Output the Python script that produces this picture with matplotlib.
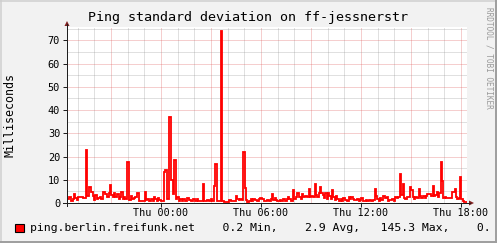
import matplotlib
matplotlib.use("Agg")
import matplotlib.pyplot as plt
from matplotlib.lines import Line2D
from matplotlib.patches import Polygon
import numpy as np

# ---- data (hours relative to Thu 00:00, value in ms) ----
hours = [-5.64, -5.50, -5.42, -5.30, -5.22, -5.14, -5.06, -4.98, -4.70, -4.50,
         -4.42, -4.30, -4.22, -4.10, -4.02, -3.94, -3.86, -3.78, -3.66, -3.58,
         -3.50, -3.38, -3.26, -3.14, -3.06, -2.98, -2.90, -2.82, -2.74, -2.66,
         -2.54, -2.46, -2.38, -2.30, -2.22, -2.14, -2.06, -1.90, -1.82, -1.74,
         -1.62, -1.54, -1.46, -1.30, -0.98, -0.90, -0.82, -0.70, -0.62, -0.50,
         -0.42, -0.34, -0.26, -0.18, -0.10, -0.02, 0.18, 0.26, 0.38, 0.50,
         0.58, 0.74, 0.78, 0.90, 0.98, 1.06, 1.14, 1.26, 1.34, 1.46,
         1.58, 1.66, 1.78, 1.90, 2.02, 2.14, 2.22, 2.50, 2.58, 2.74,
         2.86, 2.98, 3.06, 3.18, 3.26, 3.34, 3.58, 3.66, 3.78, 4.10,
         4.18, 4.50, 4.58, 4.66, 4.74, 4.86, 4.94, 5.02, 5.10, 5.18,
         5.30, 5.38, 5.46, 5.54, 5.66, 5.74, 5.86, 5.94, 6.06, 6.18,
         6.34, 6.46, 6.58, 6.66, 6.74, 6.82, 6.90, 6.98, 7.14, 7.22,
         7.34, 7.42, 7.54, 7.62, 7.70, 7.78, 7.90, 7.98, 8.10, 8.18,
         8.30, 8.38, 8.46, 8.54, 8.66, 8.74, 8.86, 8.94, 9.02, 9.14,
         9.22, 9.30, 9.38, 9.46, 9.54, 9.62, 9.70, 9.78, 9.86, 9.94,
         10.02, 10.10, 10.18, 10.26, 10.34, 10.42, 10.50, 10.58, 10.70, 10.78,
         10.86, 10.94, 11.06, 11.18, 11.26, 11.34, 11.42, 11.50, 11.58, 11.74,
         11.86, 11.94, 12.02, 12.14, 12.30, 12.38, 12.46, 12.58, 12.74, 12.82,
         12.90, 12.98, 13.06, 13.14, 13.22, 13.34, 13.42, 13.54, 13.62, 13.70,
         13.86, 13.98, 14.06, 14.14, 14.22, 14.34, 14.42, 14.50, 14.58, 14.66,
         14.74, 14.94, 15.02, 15.10, 15.18, 15.26, 15.34, 15.46, 15.54, 15.62,
         15.74, 15.82, 15.90, 15.98, 16.22, 16.30, 16.38, 16.46, 16.54, 16.62,
         16.70, 16.78, 16.86, 16.94, 17.02, 17.10, 17.46, 17.62, 17.70, 17.78,
         17.86, 17.94, 18.02, 18.10, 18.18, 18.30]
values = [1.6, 2.7, 1.0, 1.7, 3.7, 2.0, 1.3, 2.7, 2.0, 22.7,
          3.0, 6.7, 4.6, 3.0, 1.3, 3.4, 1.6, 2.0, 2.4, 1.6,
          4.6, 3.7, 2.7, 4.1, 7.7, 3.4, 2.4, 4.1, 2.7, 3.7,
          1.6, 2.4, 4.6, 1.6, 2.4, 1.6, 17.7, 1.3, 3.0, 1.6,
          2.0, 2.7, 4.1, 1.0, 4.6, 1.3, 1.6, 1.0, 1.6, 1.0,
          2.4, 1.6, 1.0, 2.0, 1.3, 1.0, 13.4, 14.4, 1.6, 37.0,
          10.0, 3.9, 18.4, 1.6, 2.7, 1.0, 1.6, 1.0, 1.6, 1.0,
          2.0, 1.3, 1.0, 1.6, 1.0, 1.6, 1.0, 8.1, 1.0, 1.3,
          1.0, 1.6, 1.0, 7.3, 16.7, 1.0, 74.0, 1.0, 0.6, 1.3,
          1.0, 3.0, 1.6, 1.3, 1.6, 1.3, 21.9, 6.3, 1.3, 0.6,
          1.0, 1.6, 1.0, 1.6, 1.3, 1.0, 1.6, 2.2, 1.6, 1.0,
          1.3, 1.0, 1.6, 3.7, 1.3, 2.0, 1.3, 1.0, 1.3, 1.0,
          1.6, 1.0, 1.6, 2.4, 1.6, 1.0, 5.6, 1.6, 2.4, 4.4,
          2.4, 1.6, 3.9, 2.4, 3.0, 2.4, 5.9, 2.7, 3.0, 2.4,
          8.1, 3.4, 2.7, 4.4, 6.7, 4.1, 3.4, 2.0, 4.1, 1.6,
          4.1, 3.0, 1.6, 5.6, 2.4, 1.3, 3.0, 1.6, 1.0, 1.6,
          1.0, 2.0, 1.3, 1.0, 2.4, 1.6, 2.4, 1.6, 1.3, 1.6,
          1.0, 1.3, 2.0, 1.0, 1.3, 1.0, 1.3, 1.0, 1.3, 5.9,
          3.0, 1.6, 1.0, 2.0, 1.3, 3.0, 2.0, 2.4, 1.0, 1.3,
          1.6, 1.0, 2.7, 2.0, 2.4, 12.4, 3.4, 8.1, 2.0, 1.6,
          2.4, 6.7, 5.6, 2.7, 1.6, 2.4, 2.0, 5.9, 3.0, 2.0,
          3.0, 2.0, 3.0, 3.9, 3.0, 7.3, 3.0, 3.4, 4.9, 2.4,
          4.4, 17.7, 9.6, 2.0, 2.4, 2.0, 4.9, 5.9, 2.4, 1.6,
          2.0, 11.0, 1.6, 1.0, 0.6, 0.6]

x_tick_pos = [0, 6, 12, 18]
x_tick_labels = ["Thu 00:00", "Thu 06:00", "Thu 12:00", "Thu 18:00"]
y_ticks = [0, 10, 20, 30, 40, 50, 60, 70]

title = "Ping standard deviation on ff-jessnerstr"
ylabel = "Milliseconds"
legend_text = "ping.berlin.freifunk.net    0.2 Min,    2.9 Avg,   145.3 Max,    0."
watermark = "RRDTOOL / TOBI OETIKER"

# ---- figure ----
W, H = 497, 243
fig = plt.figure(figsize=(W / 100, H / 100), dpi=100)
fig.patch.set_facecolor("#f2f2f2")
mono = "DejaVu Sans Mono"

def fx(px):
    return px / W

def fy(py):
    return 1 - py / H

L, R, T, B = 67, 467, 26.7, 203
ax = fig.add_axes([fx(L), fy(B), (R - L) / W, (B - T) / H])
ax.set_facecolor("white")
ax.set_xlim(-5.64, 18.36)
ax.set_ylim(0, 75.9)

for s in ax.spines.values():
    s.set_visible(False)

# grid
minor_col = (0.56, 0.56, 0.56, 0.55)
major_col = (0.87, 0.31, 0.31, 0.55)
for h in np.arange(-5, 19, 1):
    col = major_col if h % 3 == 0 else minor_col
    ax.axvline(h, color=col, lw=0.72, ls=(0, (1, 1)), zorder=1)
for v in np.arange(5, 76, 5):
    col = major_col if v % 10 == 0 else minor_col
    ax.axhline(v, color=col, lw=0.72, ls=(0, (1, 1)), zorder=1)

# data line
ax.plot(hours + [18.36], values + [values[-1]], drawstyle="steps-post",
        color="#ff0000", lw=1.3, zorder=3, solid_joinstyle="miter")

ax.set_xticks(x_tick_pos)
ax.set_xticklabels(x_tick_labels, fontfamily=mono, fontsize=7.3)
ax.set_yticks(y_ticks)
ax.set_yticklabels([str(v) for v in y_ticks], fontfamily=mono, fontsize=7.4)
ax.tick_params(axis="both", length=2.6, width=0.72, color="#1f1f1f")
ax.tick_params(axis="x", pad=1.2)
ax.tick_params(axis="y", pad=2.4)

# axes lines and arrows (figure coords)
axis_col = "#1f1f1f"
arrow_col = "#801f1f"
fig.add_artist(Line2D([fx(L), fx(L)], [fy(206), fy(24)], color=axis_col, lw=0.72))
fig.add_artist(Line2D([fx(63), fx(470)], [fy(B), fy(B)], color=axis_col, lw=0.72))
fig.add_artist(Polygon([[fx(64.5), fy(26)], [fx(69.5), fy(26)], [fx(67), fy(21)]],
                       closed=True, color=arrow_col, lw=0))
fig.add_artist(Polygon([[fx(469), fy(200.5)], [fx(469), fy(205.5)], [fx(474), fy(203)]],
                       closed=True, color=arrow_col, lw=0))

# texts
fig.text(fx(248), fy(18), title, fontfamily=mono, fontsize=9.6,
         ha="center", va="center", color="black")
fig.text(fx(10), fy(115), ylabel, fontfamily=mono, fontsize=8.4,
         rotation=90, ha="center", va="center", color="black")
fig.text(fx(488.5), fy(58), watermark, fontfamily=mono, fontsize=5.6,
         rotation=-90, ha="center", va="center", color="#9a9a9a")

# legend
fig.add_artist(Polygon([[fx(15), fy(223.5)], [fx(23.5), fy(223.5)],
                        [fx(23.5), fy(232)], [fx(15), fy(232)]],
                       closed=True, facecolor="#ff0000", edgecolor="black", lw=0.8))
fig.text(fx(30), fy(228), legend_text, fontfamily=mono, fontsize=8.25,
         ha="left", va="center", color="black")

# frame shading
fig.add_artist(Line2D([0, 1], [fy(0.7), fy(0.7)], color="#cfcfcf", lw=1.1))
fig.add_artist(Line2D([fx(0.7), fx(0.7)], [0, 1], color="#cfcfcf", lw=1.1))
fig.add_artist(Line2D([0, 1], [fy(242.3), fy(242.3)], color="#9e9e9e", lw=1.4))
fig.add_artist(Line2D([fx(496.3), fx(496.3)], [0, 1], color="#9e9e9e", lw=1.4))

fig.savefig("out.png", dpi=100, facecolor=fig.get_facecolor())
